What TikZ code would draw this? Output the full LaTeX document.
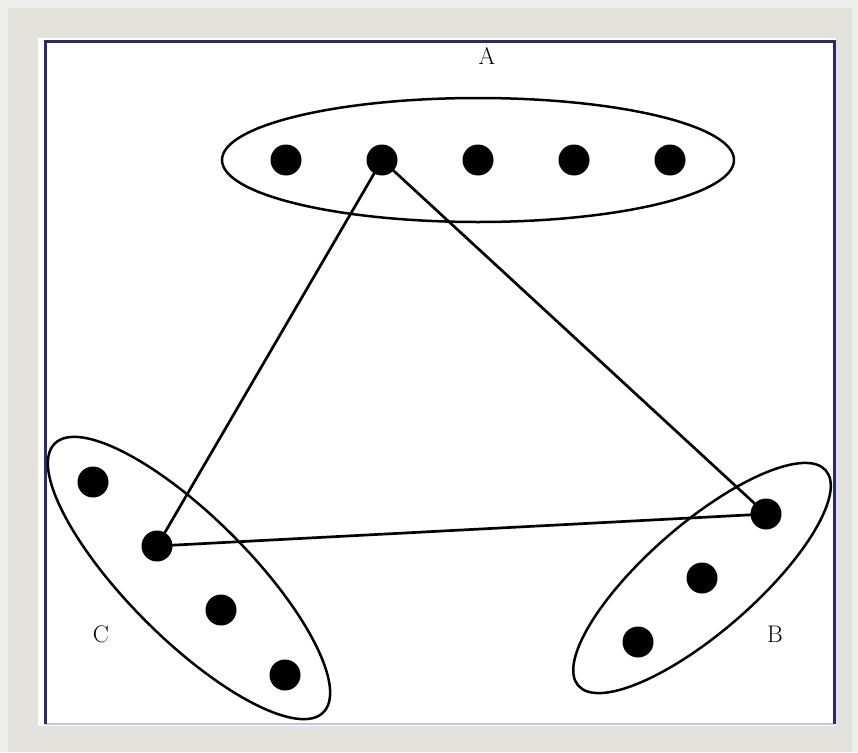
\documentclass[tikz,border=0pt]{standalone}
\usetikzlibrary{shapes.geometric}
\definecolor{outerbg}{HTML}{EEEEEC}
\definecolor{panel}{HTML}{E3E1DB}
\definecolor{frameblue}{HTML}{2A2A6E}
\definecolor{framelav}{HTML}{C4C4DE}
\tikzset{
  dot/.style={circle, fill=black, inner sep=0pt, minimum size=31pt},
  group/.style={ellipse, draw=black, line width=2.5pt, inner sep=0pt},
  link/.style={draw=black, line width=2.7pt},
  lbl/.style={font=\fontsize{24}{24}\selectfont, inner sep=0pt}
}
\begin{document}
\begin{tikzpicture}[x=1pt,y=-1pt]
\useasboundingbox (0,0) rectangle (858,752);
% frame
\fill[outerbg] (0,0) rectangle (858,752);
\fill[panel] (8,8) rectangle (852,752);
\fill[white] (38,38) rectangle (836,726);
\draw[framelav, line width=2pt] (45,724) -- (834,724);
\draw[frameblue, line width=3pt] (45,724) -- (45,42) -- (834,42) -- (834,724);
% groups
\node[group, minimum width=512pt, minimum height=124pt] (ellA) at (478,160) {};
\node[group, minimum width=380pt, minimum height=122pt, rotate=-45] (ellC) at (189,578) {};
\node[group, minimum width=328pt, minimum height=108pt, rotate=41] (ellB) at (702,578) {};
% dots
\node[dot] (a1) at (286,160) {};
\node[dot] (a2) at (382,160) {};
\node[dot] (a3) at (478,160) {};
\node[dot] (a4) at (574,160) {};
\node[dot] (a5) at (670,160) {};
\node[dot] (c1) at (93,482) {};
\node[dot] (c2) at (157,546) {};
\node[dot] (c3) at (221,610) {};
\node[dot] (c4) at (285,675) {};
\node[dot] (b1) at (766,514) {};
\node[dot] (b2) at (702,578) {};
\node[dot] (b3) at (638,642) {};
% links
\draw[link] (a2.center) -- (c2.center);
\draw[link] (a2.center) -- (b1.center);
\draw[link] (c2.center) -- (b1.center);
% labels
\node[lbl] (labA) at (487,56) {A};
\node[lbl] (labC) at (101,634) {C};
\node[lbl] (labB) at (775,634) {B};
\end{tikzpicture}
\end{document}
